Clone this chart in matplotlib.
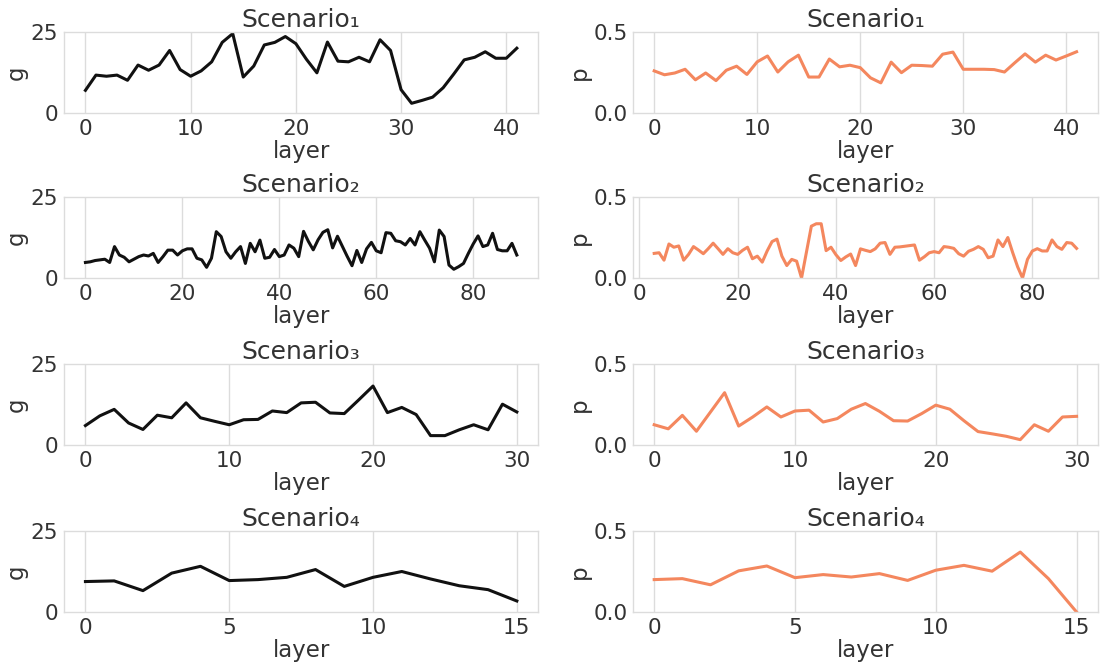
import numpy as np
import matplotlib.pyplot as plt
from matplotlib.ticker import MultipleLocator

# g values (left column)
g1 = [7.0, 11.7, 11.35, 11.7, 10.1, 14.8, 13.2, 14.8, 19.3, 13.4,
      11.35, 13.0, 15.8, 21.8, 24.5, 11.1, 14.5, 21.0, 21.8, 23.6,
      21.4, 16.6, 12.4, 21.9, 16.0, 15.8, 17.2, 15.8, 22.6, 19.3,
      7.2, 3.0, 3.9, 4.9, 7.8, 12.0, 16.4, 17.2, 18.9, 16.9,
      16.9, 20.0]
g2 = [4.8, 5.0, 5.4, 5.6, 5.8, 4.8, 9.7, 7.1, 6.4, 5.0,
      5.8, 6.6, 7.1, 6.8, 7.6, 4.8, 6.6, 8.6, 8.6, 7.1,
      8.4, 9.0, 9.0, 6.1, 5.6, 3.3, 6.1, 14.3, 12.8, 8.1,
      6.1, 8.1, 9.7, 4.5, 10.7, 8.1, 11.7, 6.1, 6.4, 8.8,
      6.6, 7.1, 10.2, 9.2, 6.6, 14.4, 11.3, 8.7, 11.8, 14.1,
      14.9, 9.3, 12.9, 9.8, 6.7, 3.8, 8.5, 4.8, 9.0, 11.0,
      8.4, 7.8, 14.0, 13.8, 11.5, 11.2, 10.2, 12.2, 10.2, 14.3,
      11.7, 9.2, 5.0, 14.8, 12.8, 4.0, 2.7, 3.5, 4.5, 7.6,
      10.5, 13.0, 9.7, 10.2, 13.8, 8.8, 8.4, 8.4, 10.7, 7.1]
g3 = [6.0, 9.0, 11.0, 6.8, 4.8, 9.2, 8.4, 13.0, 8.4, 7.3,
      6.25, 7.8, 7.9, 10.5, 10.0, 13.0, 13.2, 9.9, 9.7, 13.9,
      18.2, 10.0, 11.6, 9.4, 2.9, 2.9, 4.7, 6.25, 4.7, 12.6,
      10.2]
g4 = [9.4, 9.6, 6.6, 12.0, 14.1, 9.7, 10.0, 10.7, 13.1, 7.9,
      10.7, 12.5, 10.2, 8.1, 6.9, 3.4]

# p values (right column)
p1 = [0.26, 0.236, 0.247, 0.27, 0.205, 0.247, 0.20, 0.264, 0.289, 0.238,
      0.316, 0.352, 0.253, 0.316, 0.357, 0.222, 0.222, 0.333, 0.285, 0.295,
      0.28, 0.217, 0.186, 0.314, 0.249, 0.295, 0.293, 0.289, 0.363, 0.376,
      0.27, 0.27, 0.27, 0.268, 0.253, 0.31, 0.365, 0.314, 0.357, 0.327,
      0.352, 0.378]
p2_start = 3
p2 = [0.152, 0.156, 0.11, 0.21, 0.19, 0.198, 0.11, 0.146, 0.194, 0.173,
      0.15, 0.181, 0.215, 0.181, 0.146, 0.181, 0.156, 0.146, 0.171, 0.19,
      0.119, 0.135, 0.098, 0.167, 0.225, 0.24, 0.135, 0.077, 0.115, 0.104,
      0.0, 0.16, 0.32, 0.335, 0.335, 0.169, 0.19, 0.144, 0.108, 0.13,
      0.148, 0.077, 0.18, 0.171, 0.163, 0.18, 0.215, 0.219, 0.146, 0.19,
      0.192, 0.196, 0.2, 0.204, 0.11, 0.131, 0.156, 0.163, 0.156, 0.194,
      0.19, 0.183, 0.15, 0.135, 0.165, 0.177, 0.194, 0.177, 0.125, 0.135,
      0.235, 0.194, 0.25, 0.156, 0.069, 0.0, 0.115, 0.167, 0.181, 0.167,
      0.167, 0.235, 0.194, 0.177, 0.219, 0.215, 0.183]
p3 = [0.125, 0.1, 0.183, 0.085, 0.204, 0.323, 0.117, 0.173, 0.235, 0.173,
      0.21, 0.215, 0.142, 0.163, 0.221, 0.256, 0.208, 0.15, 0.148, 0.194,
      0.246, 0.221, 0.15, 0.083, 0.069, 0.054, 0.033, 0.125, 0.085, 0.173,
      0.177]
p4 = [0.2, 0.206, 0.168, 0.254, 0.284, 0.212, 0.231, 0.216, 0.237, 0.195,
      0.258, 0.288, 0.252, 0.37, 0.206, 0.0]

titles = ['Scenario\u2081', 'Scenario\u2082', 'Scenario\u2083', 'Scenario\u2084']
g_list = [g1, g2, g3, g4]
p_list = [p1, p2, p3, p4]
p_starts = [0, p2_start, 0, 0]
x_steps = [10, 20, 10, 5]

black = '#111111'
orange = '#f4875e'
grid_c = '#dcdcdc'
txt_c = '#333333'

fig = plt.figure(figsize=(11.01, 6.64), dpi=100)

bottoms = [0.8298, 0.5813, 0.3298, 0.0783]
h = 0.122


def style(ax, yticks, ytl, ylab, step, title):
    ax.set_yticks(yticks)
    ax.set_yticklabels(ytl)
    ax.set_ylim(yticks[0], yticks[-1])
    ax.xaxis.set_major_locator(MultipleLocator(step))
    ax.grid(True, axis='x', color=grid_c, lw=1)
    ax.set_axisbelow(True)
    for s in ax.spines.values():
        s.set_color(grid_c)
        s.set_linewidth(1)
    ax.tick_params(length=0, labelsize=15.5, labelcolor=txt_c, pad=4)
    ax.set_xlabel('layer', fontsize=16.5, color=txt_c, labelpad=1)
    ax.set_ylabel(ylab, fontsize=16.5, color=txt_c, labelpad=2)
    ax.set_title(title, fontsize=18, color=txt_c, pad=0)


for i in range(4):
    axl = fig.add_axes([0.058, bottoms[i], 0.431, h])
    axl.plot(np.arange(len(g_list[i])), g_list[i], color=black, lw=2.2)
    style(axl, [0, 25], ['0', '25'], 'g', x_steps[i], titles[i])

    axr = fig.add_axes([0.575, bottoms[i], 0.422, h])
    xs = np.arange(p_starts[i], p_starts[i] + len(p_list[i]))
    axr.plot(xs, p_list[i], color=orange, lw=2.2)
    style(axr, [0, 0.5], ['0.0', '0.5'], 'p', x_steps[i], titles[i])

fig.savefig('out.png', dpi=100)
